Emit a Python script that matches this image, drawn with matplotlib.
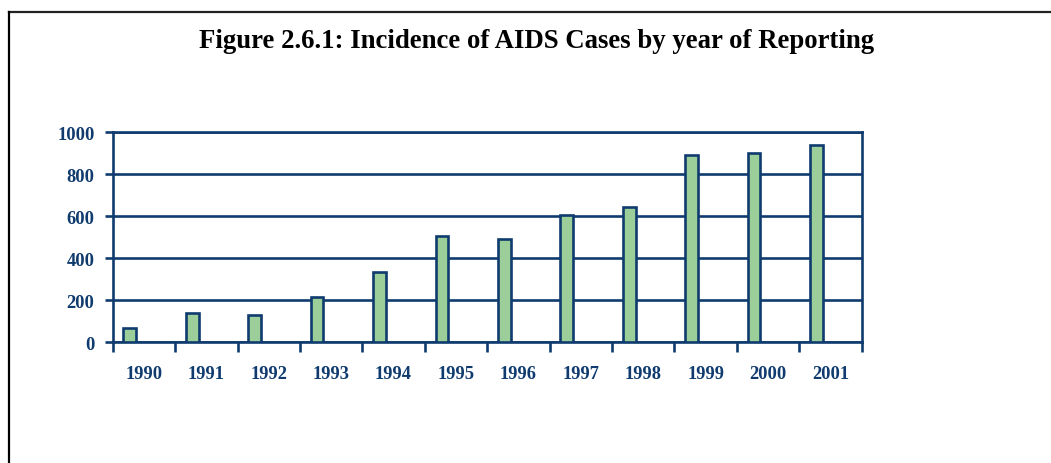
import matplotlib
matplotlib.use("Agg")
import matplotlib.pyplot as plt
from matplotlib.lines import Line2D

years = ["1990", "1991", "1992", "1993", "1994", "1995",
         "1996", "1997", "1998", "1999", "2000", "2001"]
cases = [67, 140, 131, 214, 333, 508, 490, 605, 643, 892, 903, 940]
y_ticks = [0, 200, 400, 600, 800, 1000]

navy = "#0F3B6E"
green = "#9CCE99"

fig = plt.figure(figsize=(10.51, 4.64), dpi=100)
ax = fig.add_axes([0.1072, 0.2601, 0.7127, 0.4526])

x = list(range(len(years)))
ax.bar([i - 0.225 for i in x], cases, width=0.205, color=green,
       edgecolor=navy, linewidth=1.9, zorder=3)

ax.set_xlim(-0.5, len(years) - 0.5)
ax.set_ylim(0, 1000)
ax.set_yticks(y_ticks)
ax.grid(axis="y", color=navy, linewidth=1.9, zorder=1)

ax.set_xticks(x)
ax.set_xticklabels(years)
ax.set_xticks([i + 0.5 for i in range(-1, len(years))], minor=True)
ax.tick_params(axis="x", which="major", length=0, pad=16)
ax.tick_params(axis="x", which="minor", length=7, width=1.9, color=navy, direction="out")
ax.tick_params(axis="y", length=6, width=1.9, color=navy, direction="out", pad=7)

for lab in ax.get_xticklabels() + ax.get_yticklabels():
    lab.set_fontfamily("Liberation Serif")
    lab.set_fontweight("bold")
    lab.set_fontsize(13.3)
    lab.set_color(navy)

for s in ax.spines.values():
    s.set_color(navy)
    s.set_linewidth(1.9)

fig.text(0.5105, 1 - 48 / 464, "Figure 2.6.1: Incidence of AIDS Cases by year of Reporting",
         ha="center", va="baseline", fontsize=19.3, fontweight="bold",
         fontfamily="Liberation Serif", color="black")

# page frame (top and left edges only visible)
fig.add_artist(Line2D([9 / 1051, 1.0], [1 - 13 / 464, 1 - 13 / 464],
                      transform=fig.transFigure, color="#222222", linewidth=1.6))
fig.add_artist(Line2D([9 / 1051, 9 / 1051], [0.0, 1 - 13 / 464],
                      transform=fig.transFigure, color="black", linewidth=1.6))

fig.savefig("out.png", dpi=100)
